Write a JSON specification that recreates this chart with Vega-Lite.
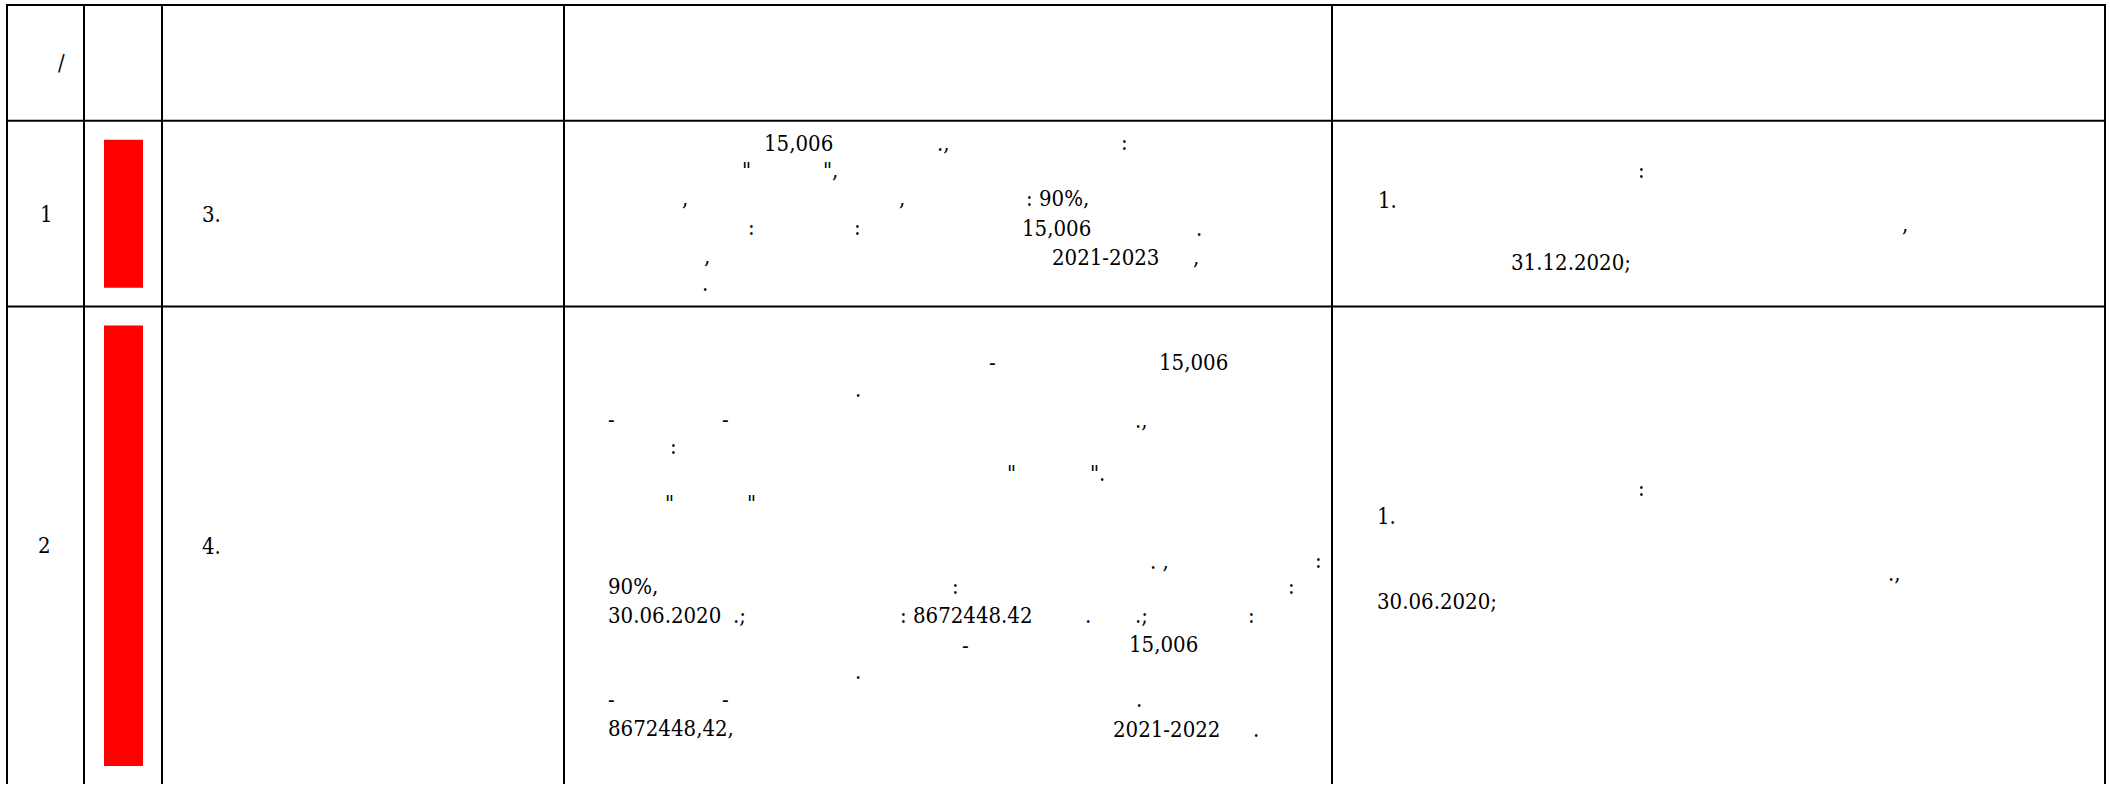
{
  "$schema": "https://vega.github.io/schema/vega-lite/v6.json",
  "width": 2110,
  "height": 785,
  "autosize": {"type": "fit", "contains": "padding"},
  "padding": 0,
  "background": "white",
  "config": {"view": {"stroke": null}},
  "datasets": {
    "lines": [
      {"x1": 7, "x2": 7, "y1": 5, "y2": 785},
      {"x1": 84, "x2": 84, "y1": 5, "y2": 785},
      {"x1": 162, "x2": 162, "y1": 5, "y2": 785},
      {"x1": 564, "x2": 564, "y1": 5, "y2": 785},
      {"x1": 1332, "x2": 1332, "y1": 5, "y2": 785},
      {"x1": 2105, "x2": 2105, "y1": 5, "y2": 785},
      {"x1": 6, "x2": 2106, "y1": 5, "y2": 5},
      {"x1": 6, "x2": 2106, "y1": 121, "y2": 121},
      {"x1": 6, "x2": 2106, "y1": 307, "y2": 307}
    ],
    "bars": [
      {"row": 1, "x1": 104, "x2": 143, "y1": 140, "y2": 288},
      {"row": 2, "x1": 104, "x2": 143, "y1": 326, "y2": 767}
    ],
    "texts": [
      {"t": "/", "x": 58, "y": 70},
      {"t": "1", "x": 40, "y": 222},
      {"t": "3.", "x": 202, "y": 222},
      {"t": "15,006", "x": 764, "y": 151},
      {"t": ".,", "x": 937, "y": 151},
      {"t": ":", "x": 1121, "y": 150},
      {"t": "\"", "x": 742, "y": 178},
      {"t": "\",", "x": 823, "y": 178},
      {"t": ",", "x": 682, "y": 206},
      {"t": ",", "x": 899, "y": 206},
      {"t": ": 90%,", "x": 1026, "y": 206},
      {"t": ":", "x": 748, "y": 235},
      {"t": ":", "x": 854, "y": 235},
      {"t": "15,006", "x": 1022, "y": 236},
      {"t": ".", "x": 1196, "y": 236},
      {"t": ",", "x": 704, "y": 264},
      {"t": "2021-2023", "x": 1052, "y": 265},
      {"t": ",", "x": 1193, "y": 265},
      {"t": ".", "x": 702, "y": 291},
      {"t": ":", "x": 1638, "y": 178},
      {"t": "1.", "x": 1378, "y": 208},
      {"t": ",", "x": 1902, "y": 232},
      {"t": "31.12.2020;", "x": 1511, "y": 270},
      {"t": "2", "x": 38, "y": 554},
      {"t": "4.", "x": 202, "y": 555},
      {"t": "-", "x": 989, "y": 370},
      {"t": "15,006", "x": 1159, "y": 370},
      {"t": ".", "x": 855, "y": 398},
      {"t": "-", "x": 608, "y": 428},
      {"t": "-", "x": 722, "y": 428},
      {"t": ".,", "x": 1135, "y": 429},
      {"t": ":", "x": 670, "y": 455},
      {"t": "\"", "x": 1007, "y": 482},
      {"t": "\".", "x": 1090, "y": 482},
      {"t": "\"", "x": 665, "y": 512},
      {"t": "\"", "x": 747, "y": 512},
      {"t": ". ,", "x": 1150, "y": 570},
      {"t": ":", "x": 1315, "y": 569},
      {"t": "90%,", "x": 608, "y": 595},
      {"t": ":", "x": 952, "y": 595},
      {"t": ":", "x": 1288, "y": 595},
      {"t": "30.06.2020", "x": 608, "y": 624},
      {"t": ".;", "x": 733, "y": 624},
      {"t": ": 8672448.42", "x": 900, "y": 624},
      {"t": ".", "x": 1085, "y": 624},
      {"t": ".;", "x": 1135, "y": 624},
      {"t": ":", "x": 1248, "y": 624},
      {"t": "-", "x": 962, "y": 654},
      {"t": "15,006", "x": 1129, "y": 653},
      {"t": ".", "x": 855, "y": 680},
      {"t": "-", "x": 608, "y": 708},
      {"t": "-", "x": 722, "y": 708},
      {"t": ".", "x": 1136, "y": 708},
      {"t": "8672448,42,", "x": 608, "y": 737},
      {"t": "2021-2022", "x": 1113, "y": 738},
      {"t": ".", "x": 1253, "y": 738},
      {"t": ":", "x": 1638, "y": 497},
      {"t": "1.", "x": 1377, "y": 525},
      {"t": ".,", "x": 1888, "y": 582},
      {"t": "30.06.2020;", "x": 1377, "y": 610}
    ]
  },
  "layer": [
    {
      "data": {"name": "bars"},
      "mark": {"type": "rect", "color": "#ff0000"},
      "encoding": {
        "x": {"field": "x1", "type": "quantitative", "scale": {"domain": [0, 2110], "nice": false, "zero": false}, "axis": null},
        "x2": {"field": "x2"},
        "y": {"field": "y1", "type": "quantitative", "scale": {"domain": [0, 785], "nice": false, "zero": false, "reverse": true}, "axis": null},
        "y2": {"field": "y2"}
      }
    },
    {
      "data": {"name": "lines"},
      "mark": {"type": "rule", "color": "black", "strokeWidth": 2},
      "encoding": {
        "x": {"field": "x1", "type": "quantitative", "scale": {"domain": [0, 2110], "nice": false, "zero": false}, "axis": null},
        "x2": {"field": "x2"},
        "y": {"field": "y1", "type": "quantitative", "scale": {"domain": [0, 785], "nice": false, "zero": false, "reverse": true}, "axis": null},
        "y2": {"field": "y2"}
      }
    },
    {
      "data": {"name": "texts"},
      "mark": {"type": "text", "align": "left", "baseline": "alphabetic", "font": "DejaVu Serif Condensed", "fontSize": 22, "color": "black"},
      "encoding": {
        "x": {"field": "x", "type": "quantitative", "scale": {"domain": [0, 2110], "nice": false, "zero": false}, "axis": null},
        "y": {"field": "y", "type": "quantitative", "scale": {"domain": [0, 785], "nice": false, "zero": false, "reverse": true}, "axis": null},
        "text": {"field": "t"}
      }
    }
  ]
}
